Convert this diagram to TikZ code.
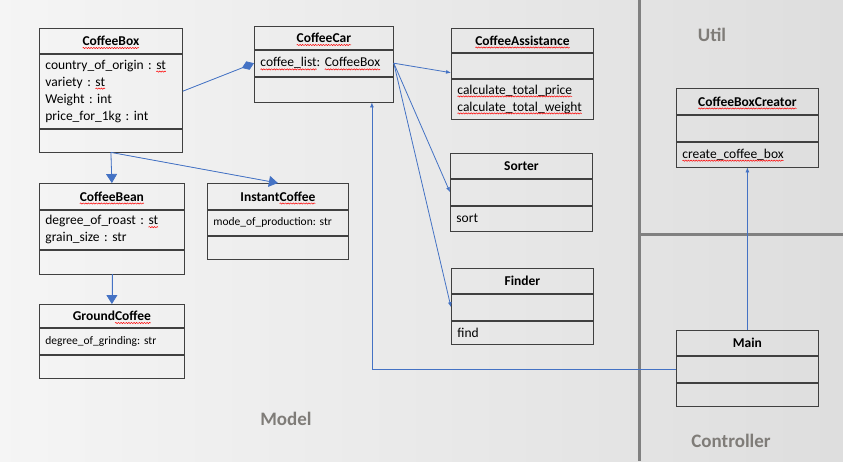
\documentclass[tikz,border=0pt]{standalone}
\usepackage{fontspec}
\setmainfont{Carlito}
\usepackage{tikz}
\usetikzlibrary{arrows.meta,decorations.pathmorphing}
\frenchspacing

\definecolor{linkblue}{RGB}{68,114,196}
\definecolor{framegray}{RGB}{128,128,128}
\definecolor{labelgray}{RGB}{127,124,120}

\tikzset{
  spnode/.style={draw=none, fill=none, inner sep=0pt, outer sep=0pt, minimum width=0pt,
    minimum height=0pt, text width={}, align=none, anchor=base},
  spline/.style={draw=red, line width=0.5pt, overlay, decorate,
    decoration={snake, amplitude=0.6pt, segment length=2.6pt}}
}
% red wavy spell-check mark
\newcommand{\spl}[1]{\tikz[baseline=(w.base)]{\node[spnode] (w) {#1};%
  \draw[spline] ([yshift=-2.4pt]w.base west) -- ([yshift=-2.4pt]w.base east);}}

\begin{document}
\begin{tikzpicture}[x=1pt,y=-1pt,
  hd/.style={draw=black!75, line width=0.8pt, anchor=north west, inner xsep=6pt, inner ysep=0pt,
    text width=#1, align=center, font=\fontsize{13.5}{16}\selectfont\bfseries},
  sec/.style={draw=black!75, line width=0.8pt, anchor=north west, inner xsep=6pt, inner ysep=0pt,
    text width=#1, align=left, font=\fontsize{13.5}{17}\selectfont},
  small/.style={font=\fontsize{11.5}{14}\selectfont},
  link/.style={draw=linkblue, line width=0.8pt},
  gen/.style={link, -{Triangle[length=9pt,width=11pt]}, fill=linkblue},
  dep/.style={link, -{Latex[length=5pt,width=4pt]}},
  divider/.style={draw=framegray, line width=3pt},
  pkg/.style={text=labelgray, font=\fontsize{19}{22}\selectfont\bfseries}]

\useasboundingbox (0,0) rectangle (843,461);
\shade[left color=black!4, right color=black!13] (0,0) rectangle (843,461);

% packages
\draw[divider] (639,0) -- (639,461);
\draw[divider] (639,234) -- (843,234);
\node[pkg] (model) at (286,419) {Model};
\node[pkg] (util) at (712,35) {Util};
\node[pkg] (ctrl) at (731,441) {Controller};

% Model classes
\node[hd=131pt, minimum height=25pt] (box) at (39,28) {\spl{CoffeeBox}};
\node[sec=131pt, minimum height=74pt] (box-a) at (box.south west)
  {country\_of\_origin : \spl{st}\\variety : \spl{st}\\Weight : int\\price\_for\_1kg : int};
\node[sec=131pt, minimum height=23pt] (box-o) at (box-a.south west) {};

\node[hd=127pt, minimum height=23pt] (car) at (254,26) {\spl{CoffeeCar}};
\node[sec=127pt, minimum height=26pt] (car-a) at (car.south west) {\spl{coffee\_list}: \spl{CoffeeBox}};
\node[sec=127pt, minimum height=25pt] (car-o) at (car-a.south west) {};

\node[hd=130pt, minimum height=24pt] (asst) at (451,28) {\spl{CoffeeAssistance}};
\node[sec=130pt, minimum height=25pt] (asst-a) at (asst.south west) {};
\node[sec=130pt, minimum height=40pt] (asst-o) at (asst-a.south west)
  {\spl{calculate\_total\_price}\\\spl{calculate\_total\_weight}};

\node[hd=133pt, minimum height=26pt] (bean) at (39,183) {\spl{CoffeeBean}};
\node[sec=133pt, minimum height=39pt] (bean-a) at (bean.south west)
  {degree\_of\_roast : \spl{st}\\grain\_size : str};
\node[sec=133pt, minimum height=24pt] (bean-o) at (bean-a.south west) {};

\node[hd=129pt, minimum height=26pt] (inst) at (207,183) {Instant\spl{Coffee}};
\node[sec=129pt, minimum height=25pt, small] (inst-a) at (inst.south west) {mode\_of\_production: str};
\node[sec=129pt, minimum height=23pt] (inst-o) at (inst-a.south west) {};

\node[hd=133pt, minimum height=23pt] (ground) at (39,304) {Ground\spl{Coffee}};
\node[sec=133pt, minimum height=26pt, small] (ground-a) at (ground.south west) {degree\_of\_grinding: str};
\node[sec=133pt, minimum height=23pt] (ground-o) at (ground-a.south west) {};

\node[hd=130pt, minimum height=25pt] (sort) at (450,153) {Sorter};
\node[sec=130pt, minimum height=26pt] (sort-a) at (sort.south west) {};
\node[sec=130pt, minimum height=25pt] (sort-o) at (sort-a.south west) {sort};

\node[hd=130pt, minimum height=25pt] (finder) at (451,268) {Finder};
\node[sec=130pt, minimum height=26pt] (finder-a) at (finder.south west) {};
\node[sec=130pt, minimum height=23pt] (finder-o) at (finder-a.south west) {find};

% Util / Controller classes
\node[hd=130pt, minimum height=26pt] (creator) at (676,88) {\spl{CoffeeBoxCreator}};
\node[sec=130pt, minimum height=26pt] (creator-a) at (creator.south west) {};
\node[sec=130pt, minimum height=25pt] (creator-o) at (creator-a.south west) {\spl{create\_coffee\_box}};

\node[hd=130pt, minimum height=25pt] (main) at (676,330) {Main};
\node[sec=130pt, minimum height=26pt] (main-a) at (main.south west) {};
\node[sec=130pt, minimum height=23pt] (main-o) at (main-a.south west) {};

% relations
\draw[link, -{Diamond[length=13pt,width=9pt]}, fill=linkblue] (box-a.east) -- (car-a.west);
\draw[gen] (box-o.south) -- (bean.north);
\draw[gen] (box-o.south) -- (inst.north);
\draw[gen] (bean-o.south) -- (ground.north);
\draw[dep] (car-a.east) -- ([yshift=-7pt]asst-a.west);
\draw[dep] (car-a.east) -- (sort-a.west);
\draw[dep] (car-a.east) -- (finder-a.west);
\draw[dep] (main-a.west) -| ([xshift=48pt]car-o.south);
\draw[dep] (main.north) -- (creator-o.south);
\end{tikzpicture}
\end{document}
